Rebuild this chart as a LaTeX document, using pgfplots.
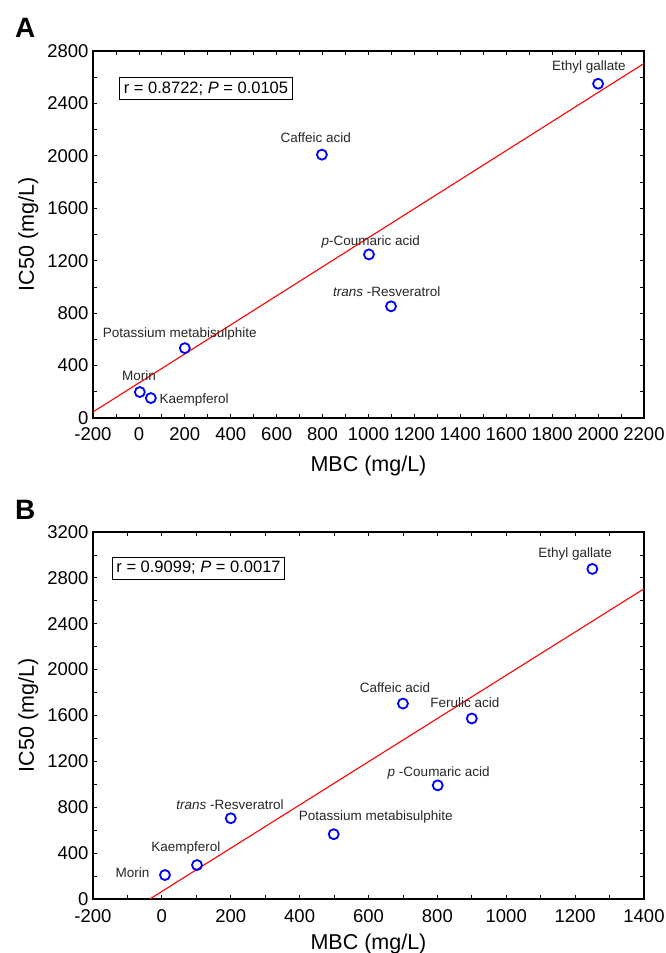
\documentclass[border=0pt]{standalone}
\usepackage{fontspec}
\setmainfont{Liberation Sans}
\usepackage{pgfplots}
\pgfplotsset{compat=1.18}

\pgfplotsset{
  corr/.style={
    scale only axis,
    width=551pt,
    height=367pt,
    xmin=-200,
    minor x tick num=1,
    minor y tick num=1,
    tick align=inside,
    major tick length=4pt,
    minor tick length=4pt,
    tick style={line width=0.8pt, black},
    axis line style={line width=1.6pt},
    tick label style={font=\fontsize{18.5}{20}\selectfont},
    label style={font=\fontsize{21.5}{24}\selectfont},
    /pgf/number format/assume math mode=true,
    /pgf/number format/1000 sep={},
    xlabel={MBC (mg/L)},
    ylabel={IC50 (mg/L)},
    xticklabel style={yshift=-4pt},
    yticklabel style={xshift=-1pt},
    xlabel style={yshift=-10pt},
    ylabel style={yshift=2pt},
    clip=false,
  },
  pts/.style={only marks, mark=o, mark size=5pt, draw=blue,
    mark options={line width=1.8pt, draw=blue}},
  fit/.style={red, line width=1.1pt, no marks},
}
\tikzset{
  lab/.style={font=\fontsize{13.5}{15}\selectfont, text=black!85},
  statbox/.style={draw, line width=1pt, fill=white, inner sep=4pt,
    font=\fontsize{16.5}{18}\selectfont, anchor=north west},
  panel/.style={font=\fontsize{28}{30}\selectfont\bfseries, anchor=base west, inner sep=0pt},
}

\begin{document}
\begin{tikzpicture}
\useasboundingbox (-93pt,-535pt) rectangle (573pt,418pt);

% Panel A
\begin{axis}[corr, name=A, xmax=2200, ymin=0, ymax=2800,
  xtick={-200,0,...,2200}, ytick={0,400,...,2800},
  xticklabel style={yshift=-2pt}, xlabel style={yshift=2pt}]
\addplot[pts] coordinates {
  (2000,2550) (797,2009) (1002,1248) (1098,852) (200,533) (4,198) (52,152)};
\addplot[fit] coordinates {(-200,46) (2200,2705)};
\node[lab] at (axis cs:1960,2679) {Ethyl gallate};
\node[lab] at (axis cs:770,2140) {Caffeic acid};
\node[lab] at (axis cs:1010,1340) {\textit{p}-Coumaric acid};
\node[lab] at (axis cs:1080,960) {\textit{trans} -Resveratrol};
\node[lab] at (axis cs:178,640) {Potassium metabisulphite};
\node[lab] at (axis cs:0,320) {Morin};
\node[lab, anchor=west] at (axis cs:75,140) {Kaempferol};
\node[statbox] at (axis cs:-85,2600) {r = 0.8722; \textit{P} = 0.0105};
\end{axis}
\node[panel] at ([xshift=-78pt,yshift=13pt]A.north west) {A};

% Panel B
\begin{axis}[corr, name=B, at={(0,-481pt)}, xmax=1400,
  ymin=0, ymax=3200, xtick={-200,0,...,1400}, ytick={0,400,...,3200},
  xticklabel style={yshift=-3pt}, xlabel style={yshift=6pt}]
\addplot[pts] coordinates {
  (1250,2878) (700,1704) (900,1574) (801,991) (200,704) (499,565) (102,296) (9,209)};
\addplot[fit] coordinates {(-35,0) (1400,2705)};
\node[lab] at (axis cs:1200,3009) {Ethyl gallate};
\node[lab] at (axis cs:677,1843) {Caffeic acid};
\node[lab] at (axis cs:880,1713) {Ferulic acid};
\node[lab] at (axis cs:804,1096) {\textit{p} -Coumaric acid};
\node[lab] at (axis cs:198,826) {\textit{trans} -Resveratrol};
\node[lab] at (axis cs:621,713) {Potassium metabisulphite};
\node[lab] at (axis cs:70,443) {Kaempferol};
\node[lab, anchor=east] at (axis cs:-26,226) {Morin};
\node[statbox] at (axis cs:-145,2983) {r = 0.9099; \textit{P} = 0.0017};
\end{axis}
\node[panel] at ([xshift=-78pt,yshift=13pt]B.north west) {B};
\end{tikzpicture}
\end{document}
